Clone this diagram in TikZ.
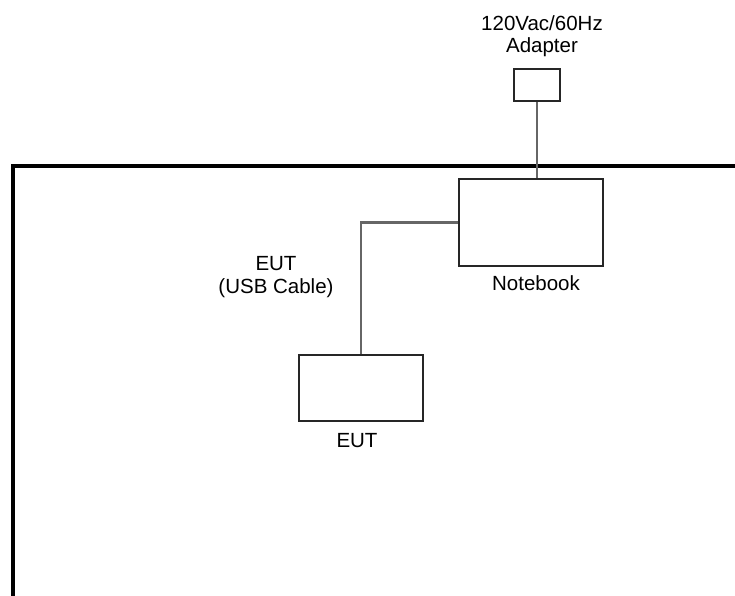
\documentclass[tikz,border=0pt]{standalone}
\usepackage{fontspec}
\setmainfont{Liberation Sans}
\usetikzlibrary{positioning}
\tikzset{
  every picture/.style={x=1pt, y=-1pt},
  lbl/.style={font=\fontsize{20.5}{22.5}\selectfont, align=center, inner sep=0pt, anchor=north},
  unit/.style={draw=black!85, line width=1.8pt, inner sep=0pt},
  cable/.style={draw=black!60, line width=2.5pt},
  wall/.style={draw=black, line width=4pt},
}

\begin{document}
\begin{tikzpicture}
  \path[use as bounding box] (0,0) rectangle (735,595);
  % table edge
  \draw[wall] (12.5,600) -- (12.5,165.5) -- (740,165.5);
  \node[unit, minimum width=46pt, minimum height=32pt] (adapter) at (537,85) {};
  \node[unit, minimum width=144pt, minimum height=87pt] (notebook) at (531,222.5) {};
  \node[unit, minimum width=124pt, minimum height=66pt] (eut) at (361,388) {};
  \node[lbl] (adapterlbl) at (542,15) {120Vac/60Hz\\Adapter};
  \node[lbl] (notebooklbl) at (536,275) {Notebook};
  \node[lbl, text height=14.7pt] (eutlbl) at (357,433) {EUT};
  \node[lbl, font=\fontsize{20.5}{23}\selectfont] (cablelbl) at (276,256) {EUT\\(USB Cable)};
  \draw[cable] (adapter.south) -- (adapter.south |- notebook.north);
  \draw[cable] (notebook.west) -| (eut.north);
\end{tikzpicture}
\end{document}
